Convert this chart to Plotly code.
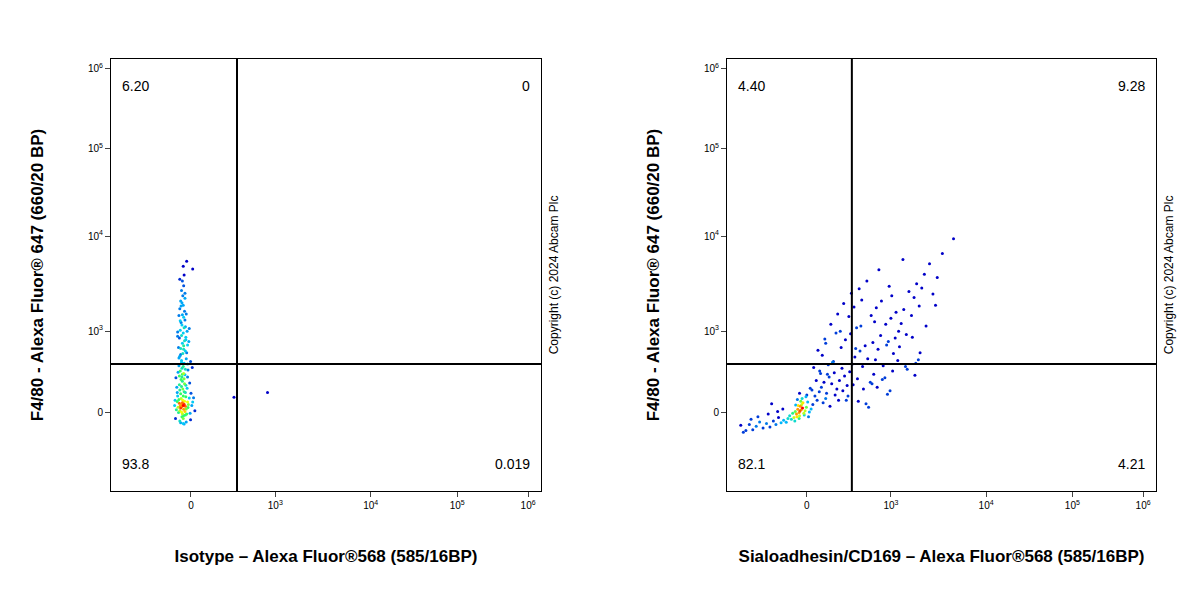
import plotly.graph_objects as go
from plotly.subplots import make_subplots
import numpy as np

# Event positions in display channel units (0-100)
iso_x = [16.5,16.8,17.0,16.2,17.3,16.6,16.9,17.1,16.4,16.7,15.9,17.5,16.0,17.8,16.3,17.2,16.8,16.1,17.4,16.6,
         15.6,18.0,16.9,15.8,17.6,16.2,17.0,16.5,15.4,18.2,16.7,17.3,15.7,17.9,16.4,16.8,15.5,18.4,17.1,16.0,
         16.6,17.0,16.3,17.4,15.9,16.9,17.7,16.1,16.5,17.2,15.8,17.0,16.4,16.8,17.5,16.0,16.7,17.3,15.6,16.2,
         16.9,17.8,15.3,18.6,16.6,17.1,15.9,16.4,17.6,16.8,16.1,17.0,16.5,17.4,15.7,16.3,17.2,16.9,15.8,17.9,
         16.6,17.1,16.0,16.8,17.3,16.2,16.7,17.5,16.4,16.9,15.5,18.1,16.6,17.0,16.3,16.8,17.2,16.1,16.5,17.7,
         15.2,18.8,14.9,19.0,15.0,18.5,14.8,19.2,16.0,17.5,15.4,18.3,16.8,17.0,16.2,15.9,17.8,16.6,17.3,16.4,
         18.5,16.2,17.8,15.5,19.5,16.9,17.4,15.1,18.9,16.5,18.2,15.8,17.2,16.0,17.6,19.0,28.6,36.4,16.4,17.3]
iso_y = [19.5,19.8,20.1,19.2,19.6,20.4,18.9,20.8,19.9,21.0,20.3,19.0,18.6,20.6,21.4,18.4,22.0,19.7,21.8,17.9,
         19.4,20.0,17.5,21.2,17.8,22.5,23.0,17.2,20.7,21.5,23.6,22.8,18.2,19.3,24.2,16.8,22.0,18.0,24.8,23.4,
         25.4,26.0,25.8,24.5,26.6,27.2,23.8,27.8,28.4,26.9,29.0,29.6,30.2,28.8,30.6,31.2,31.8,32.4,27.5,33.0,
         33.6,29.4,24.0,22.6,34.2,34.8,35.4,36.0,32.0,36.6,37.2,37.8,38.4,35.0,33.2,39.0,39.6,40.2,30.8,28.0,
         40.8,41.6,42.2,43.0,38.0,44.0,45.2,41.0,46.4,47.5,36.8,34.6,48.6,50.0,42.8,52.0,44.6,39.4,26.4,37.0,
         18.8,19.8,21.0,20.6,16.8,16.5,19.8,21.6,16.2,16.0,22.8,25.0,15.6,15.5,15.8,24.6,26.4,27.0,28.2,29.8,
         30.0,31.6,33.8,35.8,18.6,32.8,35.6,26.2,28.6,43.6,37.6,40.6,45.8,49.0,53.2,51.4,21.7,22.8,18.3,17.6]

sia_x = [17.0,17.3,16.8,17.6,16.5,17.9,16.2,17.1,16.9,17.4,16.6,18.2,15.9,17.7,16.3,18.5,15.6,17.2,16.8,18.0,
         15.3,18.8,16.0,19.2,15.0,19.6,17.5,16.4,18.4,15.8,20.0,14.6,20.5,14.2,19.0,16.9,21.0,13.8,21.5,13.2,
         12.6,12.0,11.4,10.8,10.0,9.2,8.4,7.6,6.8,6.0,5.2,4.4,3.8,3.2,11.8,9.6,7.2,5.6,13.0,10.4,
         22.0,22.6,23.2,23.8,24.4,25.0,25.6,26.2,26.8,27.4,22.4,23.0,24.0,25.2,26.0,27.0,28.0,21.8,23.6,24.8,
         28.6,29.2,29.8,30.4,31.0,31.6,32.2,32.8,33.4,34.0,28.2,29.4,30.6,31.8,33.0,34.2,27.6,28.8,30.0,31.2,
         34.6,35.2,35.8,36.4,37.0,37.6,38.2,38.8,39.4,40.0,35.0,36.2,37.4,38.6,39.8,33.6,34.8,36.0,37.2,38.4,
         40.6,41.2,41.8,42.4,43.0,43.6,44.2,44.8,45.4,46.0,40.2,41.6,43.2,44.6,46.4,47.2,48.0,49.0,50.2,52.8,
         20.2,21.2,22.8,24.2,25.8,27.2,29.0,30.8,32.6,35.4,19.4,22.2,25.4,28.4,31.4,34.4,37.8,41.0,44.0,21.6,
         26.6,24.6,23.4,20.8,19.8,18.6,27.8,32.4,36.8,39.2,45.0,48.6,30.2,33.8,42.0,26.4,23.0,29.6,38.0,43.8]
sia_y = [18.5,18.8,18.2,19.2,18.9,18.0,17.8,19.6,17.4,20.0,19.8,18.6,18.4,20.4,17.2,19.4,17.0,20.8,16.8,17.6,
         18.0,20.6,19.9,18.3,16.6,19.0,21.4,21.2,21.8,16.2,20.0,17.4,22.0,16.8,17.2,22.6,21.0,15.9,23.0,16.4,
         15.8,17.0,15.4,16.2,14.8,15.6,14.6,16.0,15.0,14.2,15.4,14.0,13.6,15.2,18.4,17.8,17.2,16.6,19.0,20.2,
         24.0,25.2,22.6,26.4,24.8,27.4,23.6,25.6,28.4,26.6,20.4,21.4,19.6,22.2,21.0,23.2,24.4,27.2,29.2,30.0,
         27.6,29.4,31.0,26.0,32.4,28.8,33.6,30.6,25.2,34.4,22.0,24.6,20.8,23.6,19.4,27.0,35.0,36.4,33.0,38.2,
         30.4,32.8,36.0,29.0,38.6,34.6,40.0,31.8,41.4,37.0,24.0,25.8,22.4,27.8,30.2,40.6,42.4,44.0,33.8,45.2,
         38.8,42.0,36.2,46.2,40.6,44.8,48.0,42.8,47.0,50.2,33.4,28.8,35.6,30.4,38.2,52.6,45.6,49.4,55.0,58.4,
         28.6,32.6,35.2,38.6,41.0,43.4,45.8,46.8,48.6,51.2,23.8,31.4,36.6,40.4,44.2,39.2,47.4,53.6,29.6,27.8,
         33.2,29.8,27.0,25.6,23.4,22.2,21.0,20.2,26.2,35.4,32.0,43.0,37.8,24.8,28.2,37.0,34.2,42.6,23.2,26.8]

x_tick_vals = [18.6, 38.2, 60.4, 80.5, 97.0]
y_tick_vals = [18.1, 37.0, 59.0, 79.2, 97.7]
x_tick_text = ["0", "10<sup>3</sup>", "10<sup>4</sup>", "10<sup>5</sup>", "10<sup>6</sup>"]
y_tick_text = ["0", "10<sup>3</sup>", "10<sup>4</sup>", "10<sup>5</sup>", "10<sup>6</sup>"]
gate_x = [29.3, 29.1]
gate_y = [29.4, 29.4]
quad_iso = ["6.20", "0", "93.8", "0.019"]
quad_sia = ["4.40", "9.28", "82.1", "4.21"]
x_titles = ["Isotype – Alexa Fluor®568 (585/16BP)", "Sialoadhesin/CD169 – Alexa Fluor®568 (585/16BP)"]
y_title = "F4/80 - Alexa Fluor® 647 (660/20 BP)"

jet = [[0, "#0000c8"], [0.3, "#00c8ff"], [0.5, "#30ff60"], [0.7, "#ffff00"], [0.85, "#ff8000"], [1, "#ff0000"]]

def density(x, y):
    x = np.array(x); y = np.array(y)
    d = np.sqrt((x[:, None] - x[None, :])**2 + (y[:, None] - y[None, :])**2)
    return (d < 1.3).sum(axis=1).astype(float)

fig = make_subplots(rows=1, cols=2)
fig.update_layout(xaxis=dict(domain=[0, 0.4115]), xaxis2=dict(domain=[0.5895, 1.0]))
for i, (xs, ys) in enumerate([(iso_x, iso_y), (sia_x, sia_y)]):
    c = density(xs, ys)
    order = np.argsort(c)
    fig.add_trace(go.Scatter(x=np.array(xs)[order], y=np.array(ys)[order], mode="markers",
                             marker=dict(size=3, color=c[order], colorscale=jet, cmin=1, cmax=c.max()),
                             showlegend=False, hoverinfo="skip"), row=1, col=i+1)
    ax = "" if i == 0 else "2"
    xr = "x" + ax; yr = "y" + ax
    fig.add_shape(type="line", x0=gate_x[i], x1=gate_x[i], y0=0, y1=100, xref=xr, yref=yr, line=dict(color="black", width=2))
    fig.add_shape(type="line", x0=0, x1=100, y0=gate_y[i], y1=gate_y[i], xref=xr, yref=yr, line=dict(color="black", width=2))
    q = quad_iso if i == 0 else quad_sia
    for txt, px, py, xa, ya in [(q[0], 2, 96, "left", "top"), (q[1], 98, 96, "right", "top"),
                                (q[2], 2, 4, "left", "bottom"), (q[3], 98, 4, "right", "bottom")]:
        fig.add_annotation(x=px, y=py, xref=xr, yref=yr, text=txt, showarrow=False, xanchor=xa, yanchor=ya,
                           font=dict(size=14, color="black"))
    fig.update_xaxes(range=[0, 100], tickvals=x_tick_vals, ticktext=x_tick_text, showgrid=False, zeroline=False,
                     showline=True, linecolor="black", mirror=True, ticks="outside", ticklen=5,
                     tickfont=dict(size=10, color="black"),
                     title=dict(text="<b>" + x_titles[i] + "</b>", font=dict(size=17, color="black"), standoff=40),
                     row=1, col=i+1)
    fig.update_yaxes(range=[0, 100], tickvals=y_tick_vals, ticktext=y_tick_text, showgrid=False, zeroline=False,
                     showline=True, linecolor="black", mirror=True, ticks="outside", ticklen=5,
                     tickfont=dict(size=10, color="black"),
                     title=dict(text="<b>" + y_title + "</b>", font=dict(size=17, color="black"), standoff=40),
                     row=1, col=i+1)
    fig.add_annotation(x=1.01, y=0.5, xref=xr + " domain", yref=yr + " domain", text="Copyright (c) 2024 Abcam Plc",
                       textangle=-90, showarrow=False, xanchor="left", font=dict(size=12, color="black"))

fig.update_layout(width=1200, height=600, plot_bgcolor="white", paper_bgcolor="white",
                  font=dict(family="Liberation Sans, Arial"),
                  margin=dict(l=103, r=52, t=51, b=117))
fig.write_html("out.html")
